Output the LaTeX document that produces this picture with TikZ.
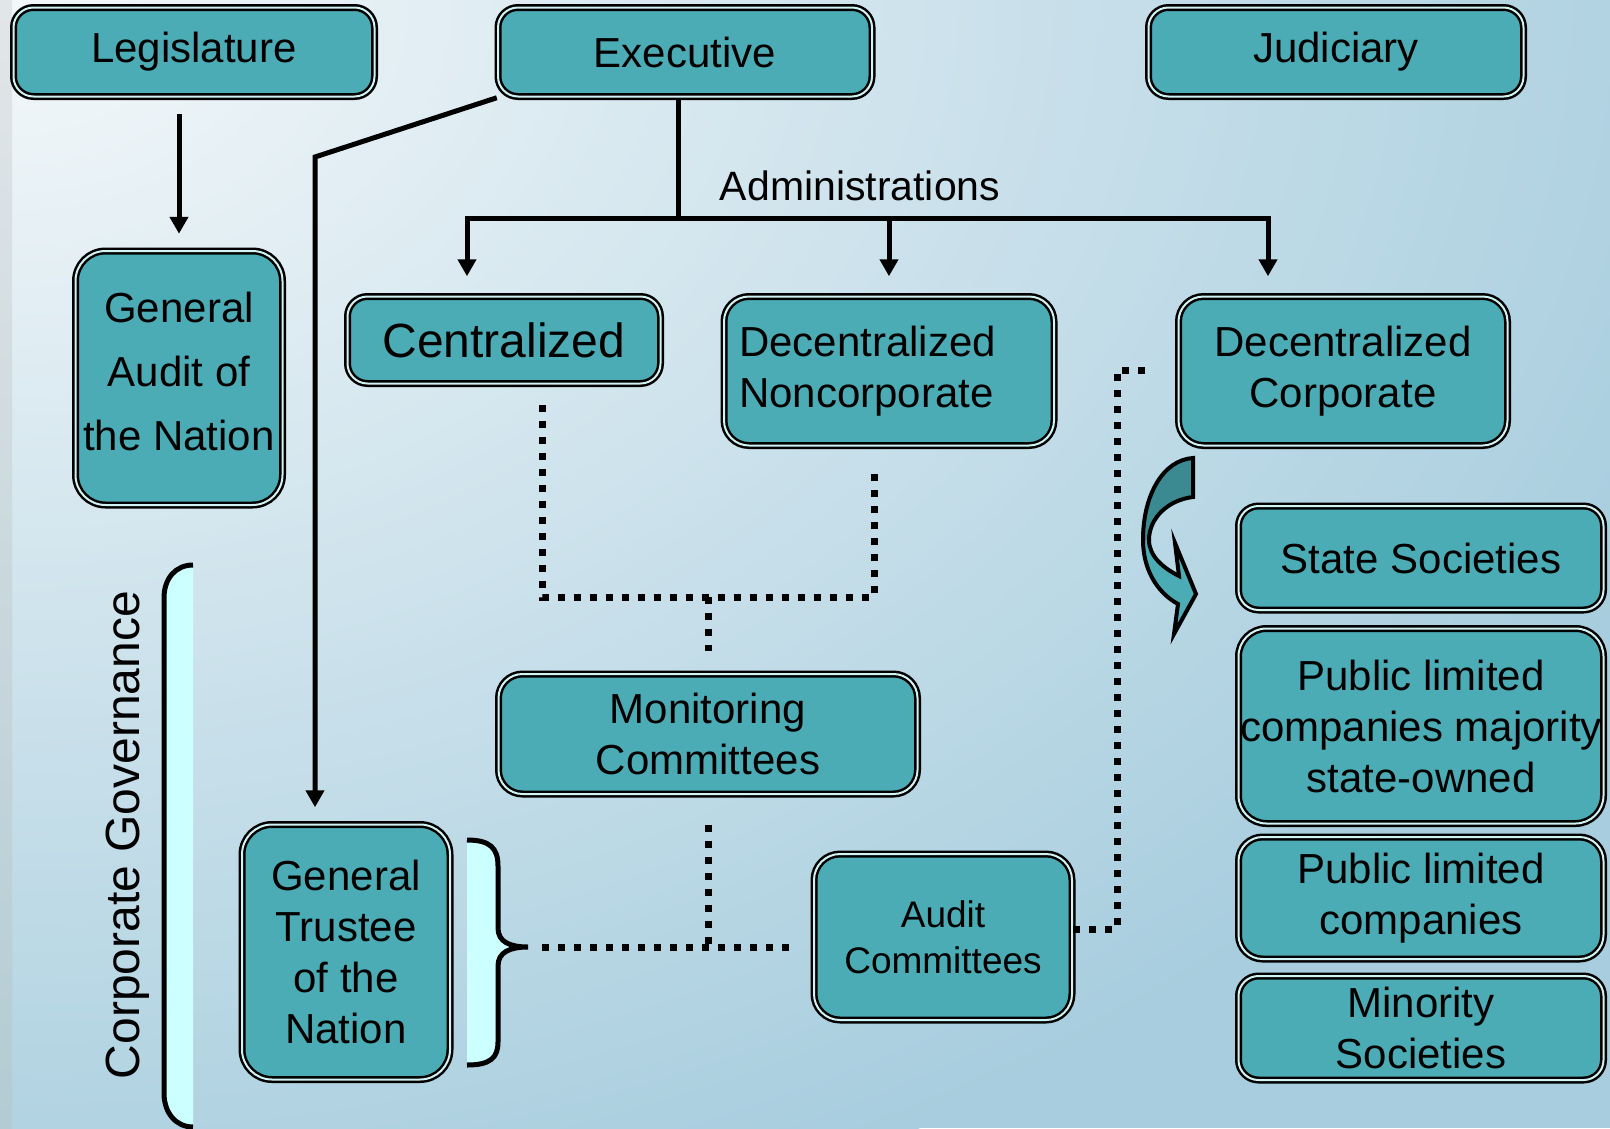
\documentclass[tikz,border=0pt]{standalone}
\usepackage{fontspec}
\setmainfont{Liberation Sans}
\usetikzlibrary{arrows.meta}

\definecolor{boxteal}{HTML}{4BACB6}
\definecolor{boxrim}{HTML}{D2F3F4}
\definecolor{bgA}{HTML}{F4F8FA}
\definecolor{bgB}{HTML}{A7CDDE}
\definecolor{stripA}{HTML}{E2E6E8}
\definecolor{stripB}{HTML}{B3CBD3}
\definecolor{bracefill}{HTML}{CCFFFF}
\definecolor{arrdark}{HTML}{3B8A92}

\begin{document}
\begin{tikzpicture}[x=1pt,y=-1pt,
  box/.style={draw=black, line width=2.5pt, double=boxrim, double distance=2pt,
    fill=boxteal, rounded corners=20pt, inner sep=0pt, align=center,
    font=\fontsize{42}{51}\selectfont},
  conn/.style={line width=5pt},
  arr/.style={line width=5pt, -{Triangle[length=17pt,width=18pt]}},
  dots/.style={line width=7pt, dash pattern=on 7pt off 9pt},
  curlyline/.style={line width=5pt, draw=black, fill=bracefill}]

\useasboundingbox (0,0) rectangle (1610,1128);

% background
\begin{scope}
  \clip (0,0) rectangle (1610,1128);
  \fill[bgB] (0,0) rectangle (1610,1128);
  \shade[inner color=bgA, outer color=bgB] (0,0) ellipse (1850 and 1300);
  \shade[top color=stripA, bottom color=stripB] (0,0) rectangle (12,1128);
\end{scope}

% top row
\node[box, minimum width=361, minimum height=89] (legis) at (194,52) {Legislature};
\node[box, minimum width=374, minimum height=89] (exec) at (685,52) {Executive};
\node[box, minimum width=375, minimum height=89] (jud) at (1336,52) {Judiciary};

% administrations
\node[box, minimum width=207, minimum height=254, rounded corners=30pt,
  font=\fontsize{42}{64}\selectfont] (gan) at (179,378) {General\\Audit of\\the Nation\\[-50pt]};
\node[box, minimum width=313, minimum height=87, font=\fontsize{48}{58}\selectfont]
  (cent) at (504,340) {Centralized};
\node[box, minimum width=330, minimum height=149, rounded corners=25pt,
  align=left, text width=300] (noncorp) at (889,371) {Decentralized\\Noncorporate\\[-41pt]};
\node[box, minimum width=329, minimum height=149, rounded corners=25pt]
  (corp) at (1343,371) {Decentralized\\Corporate};
\node[font=\fontsize{41}{50}\selectfont] (admlbl) at (860,186) {Administrations};

% corporate forms
\node[box, minimum width=365, minimum height=104] (soc) at (1421,558) {State Societies};
\node[box, minimum width=365, minimum height=195, rounded corners=28pt]
  (plcm) at (1421,726) {Public limited\\companies majority\\state-owned};
\node[box, minimum width=365, minimum height=122, rounded corners=24pt]
  (plc) at (1421,898) {Public limited\\companies};
\node[box, minimum width=365, minimum height=104] (minor) at (1421,1028) {Minority\\Societies};

% committees
\node[box, minimum width=419, minimum height=120, rounded corners=24pt]
  (monit) at (708,734) {Monitoring\\Committees};
\node[box, minimum width=208, minimum height=255, rounded corners=30pt]
  (trustee) at (346,952) {General\\Trustee\\of the\\Nation};
\node[box, minimum width=258, minimum height=166, rounded corners=26pt,
  font=\fontsize{37}{46}\selectfont] (audit) at (943,937) {Audit\\Committees};

\node[rotate=90, font=\fontsize{48}{58}\selectfont] (cgov) at (128,835) {Corporate Governance};

% junctions
\coordinate (bend) at (315,157);
\coordinate (adm) at (678,218);
\coordinate (brL) at (467,218);
\coordinate (brM) at (889,218);
\coordinate (brR) at (1268,218);
\coordinate (jnL) at (542,597);
\coordinate (jnR) at (874,597);
\coordinate (jn) at (708,597);
\coordinate (jn2) at (708,945);
\coordinate (brtip) at (528,947);
\coordinate (jn3) at (1117,929);
\coordinate (jn4) at (1117,370);

% solid connectors
\draw[arr, shorten <=16pt, shorten >=16pt] (gan.north |- legis.south) -- (gan.north);
\draw[arr, line join=miter, shorten >=16pt] (exec.south west) -- (bend) -- (bend |- trustee.north);
\draw[conn] (adm |- exec.south) -- (adm);
\draw[conn, line cap=rect] (brL) -- (brR);
\draw[arr, shorten >=19pt] (brL) -- (brL |- cent.north);
\draw[arr, shorten >=19pt] (brM) -- (brM |- noncorp.north);
\draw[arr, shorten >=19pt] (brR) -- (brR |- corp.north);

% dotted connectors
\draw[dots, shorten <=20pt, shorten >=20pt] (jnL |- cent.south) -- (jnL) -- (jnR) -- (jnR |- noncorp.south);
\draw[dots, shorten >=22pt] (jn) -- (jn |- monit.north);
\draw[dots, shorten <=30pt] (jn2 |- monit.south) -- (jn2);
\draw[dots, shorten <=14pt, shorten >=15pt] (brtip) -- (audit.west |- brtip);
\draw[dots, shorten >=23pt] (audit.east |- jn3) -- (jn3) -- (jn4) -- (corp.west |- jn4);

% braces
\filldraw[curlyline] (467,840) .. controls (490,840) and (498,848) .. (498,866)
  -- (498,928) .. controls (498,942) and (510,947) .. (brtip)
  .. controls (510,947) and (498,952) .. (498,966)
  -- (498,1042) .. controls (498,1058) and (490,1065) .. (467,1065);
\filldraw[curlyline] (193,565) .. controls (176,565) and (164,578) .. (164,598)
  -- (164,1093) .. controls (164,1113) and (176,1127) .. (193,1127);

% curved arrow
\fill[boxteal] (1193,458) -- (1193,497) .. controls (1168,500) and (1149,518) .. (1149,540)
  .. controls (1149,556) and (1163,568) .. (1179,576) -- (1175,543) -- (1196,594)
  -- (1174,634) -- (1178,604) .. controls (1156,592) and (1143,568) .. (1143,540)
  .. controls (1143,495) and (1163,460) .. (1193,458) -- cycle;
\fill[arrdark] (1193,458) -- (1193,497) .. controls (1168,500) and (1149,518) .. (1149,540)
  -- (1143,540) .. controls (1143,495) and (1163,460) .. (1193,458) -- cycle;
\draw[line width=4pt, line join=miter] (1193,458) -- (1193,497) .. controls (1168,500) and (1149,518) .. (1149,540)
  .. controls (1149,556) and (1163,568) .. (1179,576) -- (1175,543) -- (1196,594)
  -- (1174,634) -- (1178,604) .. controls (1156,592) and (1143,568) .. (1143,540)
  .. controls (1143,495) and (1163,460) .. (1193,458) -- cycle;

\end{tikzpicture}
\end{document}
